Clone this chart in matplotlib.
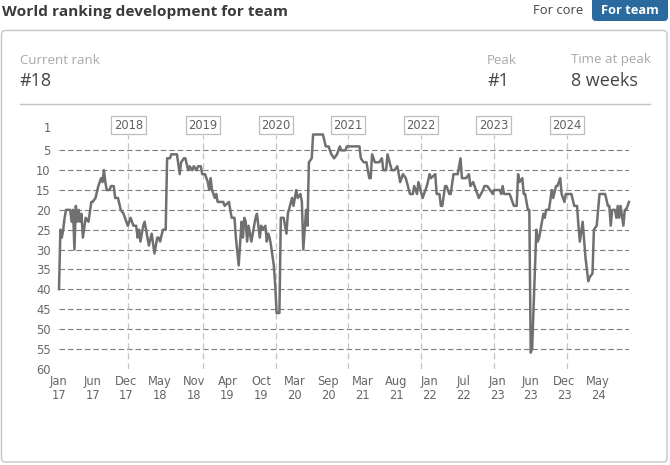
import matplotlib
matplotlib.use("Agg")
import matplotlib.pyplot as plt
from matplotlib.patches import FancyBboxPatch

# weeks since Jan 17 and world rank
weeks = [0, 1, 2, 3, 4, 5, 8, 9, 10, 11, 12, 13, 14, 15, 16, 17, 19, 21, 23, 24, 26, 28, 30, 31, 32, 33, 34, 36, 37, 39,
         40, 42, 44, 46, 47, 49, 51, 53, 55, 56, 57, 58, 60, 61, 64, 66, 68, 70, 71, 72, 74, 76, 77, 79, 80, 84, 86, 87, 89, 90,
         92, 93, 95, 96, 98, 99, 101, 102, 104, 106, 107, 108, 109, 111, 112, 113, 117, 118, 121, 123, 125, 126, 128, 130, 131,
         132, 133, 134, 135, 137, 140, 141, 143, 144, 145, 147, 148, 149, 150, 151, 153, 154, 155, 157, 158, 160, 162, 163, 166,
         167, 169, 170, 172, 173, 174, 176, 177, 178, 180, 181, 188, 190, 192, 194, 196, 198, 200, 201, 204, 205, 214, 215, 217,
         219, 221, 222, 223, 225, 228, 230, 231, 233, 234, 237, 239, 241, 243, 245, 247, 250, 252, 253, 255, 256, 259, 262, 264,
         265, 268, 269, 271, 272, 273, 275, 276, 278, 279, 281, 284, 286, 287, 290, 292, 293, 295, 297, 299, 302, 303, 305, 307,
         309, 310, 314, 315, 316, 317, 321, 323, 324, 326, 327, 328, 330, 331, 332, 334, 335, 336, 337, 340, 341, 342, 345, 346,
         347, 349, 351, 352, 354, 355, 357, 358, 360, 361, 365, 367, 369, 370, 371, 373, 375, 377, 378, 380, 381, 383, 385, 389,
         391, 392, 393, 394, 396, 397, 398, 399, 400, 402, 403, 404, 406]
ranks = [40, 25, 27, 25, 22, 20, 20, 23, 20, 30, 19, 23, 20, 23, 21, 27, 22, 23, 18, 18, 17, 14, 12, 13, 10, 13, 15, 15, 14, 14,
         17, 17, 20, 21, 22, 24, 22, 24, 24, 27, 25, 28, 24, 23, 29, 26, 31, 27, 27, 28, 25, 25, 7, 7, 6, 6, 11, 8, 7, 7,
         10, 9, 10, 9, 10, 9, 9, 11, 11, 13, 15, 12, 15, 17, 16, 18, 18, 19, 18, 22, 22, 27, 34, 23, 27,
         22, 23, 28, 24, 28, 22, 21, 27, 24, 25, 24, 28, 26, 27, 29, 34, 39, 46, 46, 22, 22, 26, 21, 17,
         19, 15, 17, 16, 18, 30, 20, 24, 8, 7, 1, 1, 4, 4, 6, 7, 6, 4, 5, 5, 4, 4, 7, 8,
         8, 12, 12, 6, 8, 8, 7, 10, 10, 6, 10, 10, 9, 13, 11, 12, 16, 16, 14, 16, 13, 17, 14, 11,
         12, 11, 16, 16, 19, 19, 14, 14, 16, 16, 11, 11, 7, 12, 12, 11, 14, 13, 15, 17, 15, 14, 14, 15,
         16, 15, 15, 16, 14, 16, 16, 18, 19, 19, 11, 13, 12, 16, 16, 20, 20, 56, 55, 25, 28, 27, 21, 22,
         20, 20, 15, 17, 14, 14, 12, 16, 18, 16, 16, 19, 19, 24, 28, 23, 32, 38, 37, 36, 25, 24, 16, 16,
         19, 19, 24, 20, 20, 22, 19, 22, 19, 24, 20, 20, 18]

rank_ticks = [1, 5, 10, 15, 20, 25, 30, 35, 40, 45, 50, 55, 60]
grid_ranks = [5, 10, 15, 20, 25, 30, 35, 40, 45, 50, 55]
month_ticks = [0, 24, 48, 72, 96, 120, 144, 168, 192, 216, 240, 264, 288, 312, 336, 360, 384]
month_labels = ["Jan\n17", "Jun\n17", "Dec\n17", "May\n18", "Nov\n18", "Apr\n19", "Oct\n19", "Mar\n20", "Sep\n20",
                "Mar\n21", "Aug\n21", "Jan\n22", "Jul\n22", "Jan\n23", "Jun\n23", "Dec\n23", "May\n24"]
year_weeks = [49.5, 102.5, 154.4, 205.7, 258, 309.6, 361.6]
year_labels = ["2018", "2019", "2020", "2021", "2022", "2023", "2024"]

W, H = 670, 465
fig = plt.figure(figsize=(W / 100, H / 100), dpi=100, facecolor="white")

# page furniture, in pixel coordinates
page = fig.add_axes([0, 0, 1, 1])
page.set_xlim(0, W)
page.set_ylim(H, 0)
page.axis("off")
page.add_patch(FancyBboxPatch((1.5, 30.5), 665.5, 431.5, boxstyle="round,pad=0,rounding_size=4",
                              fc="white", ec="#c4c4c4", lw=1))
page.add_patch(FancyBboxPatch((592, -4), 76, 25, boxstyle="round,pad=0,rounding_size=4",
                              fc="#2b6a9f", ec="none"))
page.plot([20, 650], [104.5, 104.5], color="#c4c4c4", lw=1)

sans = "Open Sans"
page.text(2, 12, "World ranking development for team", family=sans, weight="bold", fontsize=11.1,
          color="#3a3a3a", va="center")
page.text(533, 11, "For core", family=sans, fontsize=9.4, color="#444444", va="center")
page.text(630, 11, "For team", family=sans, weight="bold", fontsize=9.3, color="white", va="center", ha="center")
for x, top, value in [(20, "Current rank", "#18"), (487, "Peak", "#1"), (571, "Time at peak", "8 weeks")]:
    page.text(x, 60, top, family=sans, fontsize=9.5, color="#a8a8a8", va="center")
    page.text(x, 81, value, family=sans, fontsize=13, color="#444444", va="center")

# chart area: week 0 at x=59, rank 1 at y=134.5, rank 60 at y=368.5
left, right, top, bottom = 59, 629, 134.5, 368.5
ax = fig.add_axes([left / W, 1 - bottom / H, (right - left) / W, (bottom - top) / H])
ax.patch.set_alpha(0)
ax.set_xlim(0, 406)
ax.set_ylim(60, 1)
for s in ax.spines.values():
    s.set_visible(False)

for r in grid_ranks:
    ax.axhline(r, color="#7d7d7d", lw=0.8, dashes=(5, 2.6), zorder=1)
for w, label in zip(year_weeks, year_labels):
    ax.axvline(w, color="#c4c4c4", lw=0.9, dashes=(5, 3), zorder=1)
    ax.text(w, -1.3, label, ha="center", va="center", fontsize=8.3, color="#606060", clip_on=False,
            bbox=dict(boxstyle="square,pad=0.22", fc="white", ec="#bdbdbd", lw=0.9))

ax.plot(weeks, ranks, color="#707070", lw=1.8, solid_joinstyle="round", zorder=3, clip_on=False)

ax.set_yticks(rank_ticks)
ax.set_xticks(month_ticks)
ax.set_xticklabels(month_labels, linespacing=1.1)
ax.tick_params(axis="both", length=0, labelsize=8.3, labelcolor="#666666")
ax.tick_params(axis="y", pad=6)
ax.tick_params(axis="x", pad=5)
# the "1" sits a little above its tick in the original
ax.get_yticklabels()[0].set_verticalalignment("bottom")

fig.savefig("out.png", dpi=100)
